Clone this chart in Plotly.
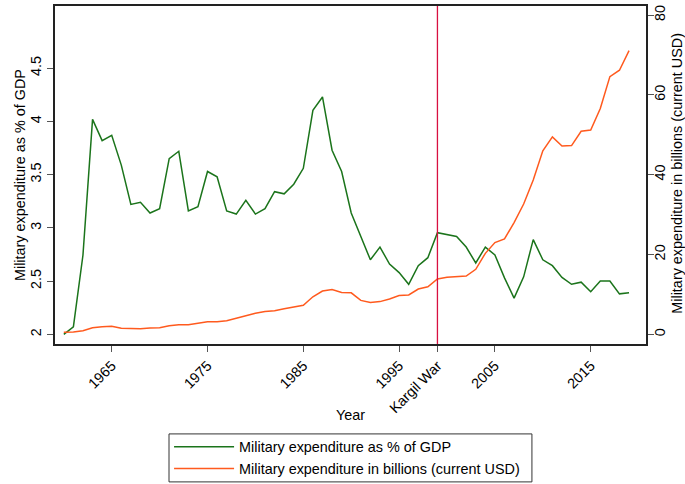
import plotly.graph_objects as go

years = list(range(1960, 2020))

gdp_share = [
    2.00, 2.07, 2.745, 4.02, 3.82, 3.87, 3.59, 3.22, 3.24, 3.14,
    3.18, 3.65, 3.72, 3.16, 3.20, 3.53, 3.48, 3.16, 3.13, 3.26,
    3.13, 3.18, 3.34, 3.32, 3.41, 3.56, 4.105, 4.23, 3.73, 3.53,
    3.14, 2.92, 2.70, 2.82, 2.66, 2.58, 2.47, 2.645, 2.72, 2.955,
    2.94, 2.92, 2.82, 2.67, 2.82, 2.745, 2.53, 2.34, 2.54, 2.89,
    2.70, 2.645, 2.535, 2.47, 2.49, 2.40, 2.50, 2.50, 2.38, 2.39,
]

usd_billions = [
    0.5, 0.6, 0.9, 1.65, 1.9, 2.0, 1.5, 1.4, 1.4, 1.55,
    1.65, 2.15, 2.4, 2.4, 2.85, 3.15, 3.15, 3.4, 4.0, 4.7,
    5.3, 5.7, 5.9, 6.4, 6.85, 7.3, 9.4, 10.85, 11.2, 10.5,
    10.4, 8.5, 8.0, 8.2, 8.85, 9.7, 9.85, 11.35, 11.9, 13.86,
    14.3, 14.5, 14.6, 16.3, 20.3, 23.0, 23.9, 28.0, 32.65, 38.7,
    46.0, 49.5, 47.2, 47.3, 50.9, 51.2, 56.6, 64.6, 66.2, 71.1,
]

war_year = 1999
x_tickvals = [1965, 1975, 1985, 1995, 1999, 2005, 2015]
x_ticktext = ["1965", "1975", "1985", "1995", "Kargil War", "2005", "2015"]
left_ticks = [2, 2.5, 3, 3.5, 4, 4.5]
left_ticktext = ["2", "2.5", "3", "3.5", "4", "4.5"]
right_ticks = [0, 20, 40, 60, 80]

GREEN = "#1b741b"
ORANGE = "#ff5a1e"
CRIMSON = "#d81040"
FONT = "Liberation Sans, Arial, sans-serif"
FS = 14.4

fig = go.Figure()
fig.add_trace(go.Scatter(
    x=years, y=gdp_share, mode="lines", name="Military expenditure as % of GDP",
    line=dict(color=GREEN, width=1.5), yaxis="y",
))
fig.add_trace(go.Scatter(
    x=years, y=usd_billions, mode="lines",
    name="Military expenditure in billions (current USD)",
    line=dict(color=ORANGE, width=1.5), yaxis="y2",
))

# vertical marker for the Kargil War
fig.add_shape(type="line", xref="x", yref="paper", x0=war_year, x1=war_year,
              y0=0, y1=1, line=dict(color=CRIMSON, width=1.3), layer="above")

# frame around the legend
fig.add_shape(type="rect", xref="paper", yref="paper",
              x0=0.1929, x1=0.807, y0=-0.408, y1=-0.266,
              line=dict(color="#333", width=1), fillcolor="rgba(0,0,0,0)")

axis_common = dict(showgrid=False, zeroline=False, showline=True,
                   linecolor="#222", linewidth=1.5, ticks="outside",
                   ticklen=6, tickwidth=1.2, tickcolor="#555", automargin=False,
                   tickfont=dict(size=FS, color="black", family=FONT))

fig.update_layout(
    width=685, height=484,
    margin=dict(l=55, r=39, t=6, b=140),
    paper_bgcolor="white", plot_bgcolor="white",
    font=dict(family=FONT, size=FS, color="black"),
    xaxis=dict(range=[1959.08, 2020.77], tickvals=x_tickvals, ticktext=x_ticktext,
               tickangle=-45, mirror=True, **axis_common),
    yaxis=dict(range=[1.909, 5.085], tickvals=left_ticks, ticktext=left_ticktext,
               tickangle=-90, **axis_common),
    yaxis2=dict(range=[-2.43, 82.3], tickvals=right_ticks, overlaying="y",
                side="right", tickangle=-90, ticklabelstandoff=-6, **axis_common),
    showlegend=True,
    legend=dict(x=0.193, xanchor="left", yref="container", y=1 - 431 / 484,
                yanchor="top", borderwidth=0, bgcolor="rgba(0,0,0,0)",
                font=dict(size=FS, family=FONT), itemwidth=60,
                tracegroupgap=0),
    annotations=[
        dict(text="Year", xref="paper", yref="paper", x=0.5, y=-0.21,
             showarrow=False, font=dict(size=FS), xanchor="center", yanchor="middle"),
        dict(text="Military expenditure as % of GDP", xref="paper", yref="paper",
             x=-0.0592, y=0.5, textangle=-90, showarrow=False,
             font=dict(size=FS), xanchor="center", yanchor="middle"),
        dict(text="Military expenditure in billions (current USD)", xref="paper",
             yref="paper", x=1.052, y=0.506, textangle=-90, showarrow=False,
             font=dict(size=FS), xanchor="center", yanchor="middle"),
    ],
)

fig.write_html("out.html")
